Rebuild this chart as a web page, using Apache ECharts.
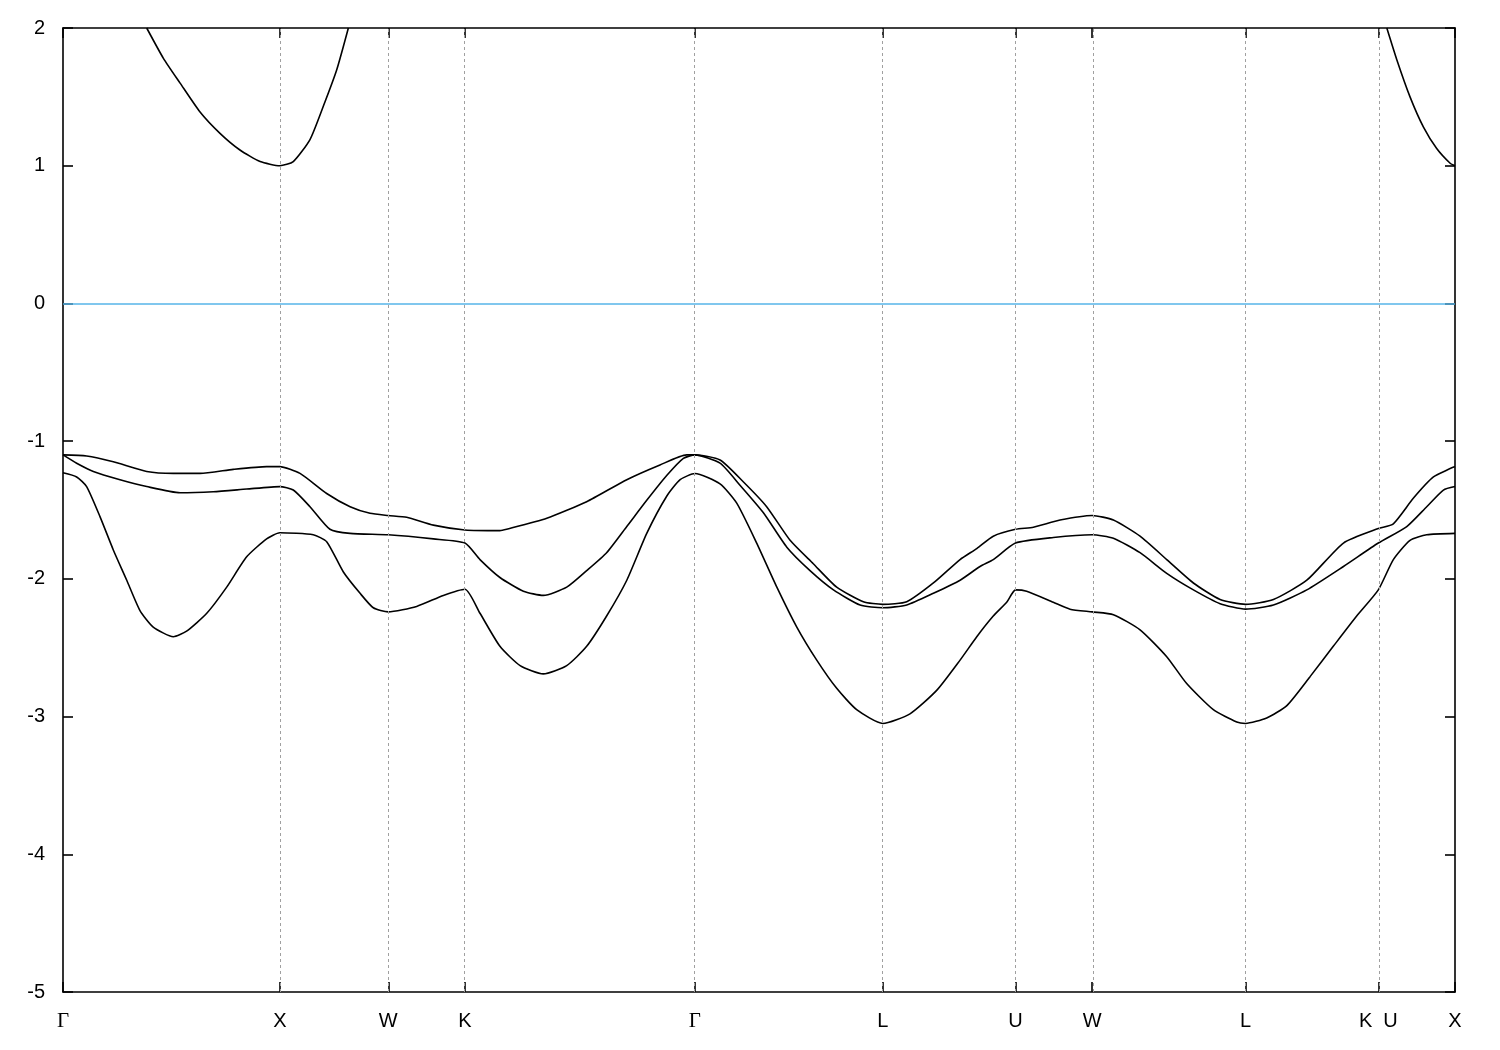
<!DOCTYPE html>
<html><head><meta charset="utf-8">
<script src="https://cdn.jsdelivr.net/npm/echarts@6/dist/echarts.min.js"></script>
<style>html,body{margin:0;padding:0;background:#fff}#c{width:1500px;height:1050px}</style>
</head><body><div id="c"></div>
<script>
// High-symmetry points along the k-path (units of 2π/a)
const kTicks = [0, 1.0, 1.5, 1.8536, 2.9143, 3.7803, 4.3927, 4.7463, 5.4534, 6.0658, 6.4194];
const kLabels = ['Γ', 'X', 'W', 'K', 'Γ', 'L', 'U', 'W', 'L', 'K  U', 'X'];
const yTicks = [-5, -4, -3, -2, -1, 0, 1, 2];
const fermiLevel = 0;

// Valence bands [k, E]
const bandTop = [[0,-1.10],[0.109,-1.108],[0.232,-1.15],[0.386,-1.22],[0.509,-1.234],[0.632,-1.234],[0.785,-1.205],[0.939,-1.185],[1.0,-1.185],[1.093,-1.234],[1.216,-1.38],[1.324,-1.476],[1.416,-1.524],[1.5,-1.54],[1.585,-1.553],[1.708,-1.61],[1.8536,-1.645],[2.015,-1.65],[2.046,-1.64],[2.231,-1.56],[2.415,-1.44],[2.600,-1.28],[2.753,-1.173],[2.876,-1.10],[2.9143,-1.10],[3.030,-1.137],[3.137,-1.295],[3.245,-1.476],[3.353,-1.72],[3.460,-1.89],[3.568,-2.06],[3.691,-2.166],[3.7803,-2.185],[3.891,-2.166],[4.014,-2.03],[4.137,-1.86],[4.214,-1.78],[4.290,-1.69],[4.3927,-1.64],[4.475,-1.625],[4.598,-1.573],[4.7463,-1.54],[4.844,-1.573],[4.967,-1.69],[5.090,-1.86],[5.213,-2.03],[5.336,-2.15],[5.4534,-2.185],[5.582,-2.15],[5.736,-2.01],[5.905,-1.74],[6.0658,-1.635],[6.135,-1.60],[6.227,-1.415],[6.320,-1.26],[6.4194,-1.185]];
const bandMid = [[0,-1.10],[0.063,-1.16],[0.140,-1.22],[0.263,-1.28],[0.386,-1.33],[0.540,-1.375],[0.693,-1.367],[0.847,-1.348],[1.0,-1.33],[1.062,-1.355],[1.139,-1.476],[1.231,-1.64],[1.324,-1.67],[1.5,-1.68],[1.708,-1.71],[1.8536,-1.74],[1.923,-1.86],[2.015,-1.99],[2.123,-2.09],[2.215,-2.12],[2.323,-2.06],[2.415,-1.94],[2.507,-1.81],[2.600,-1.62],[2.692,-1.43],[2.784,-1.25],[2.861,-1.125],[2.9143,-1.10],[3.030,-1.16],[3.122,-1.32],[3.230,-1.52],[3.338,-1.77],[3.445,-1.94],[3.553,-2.08],[3.676,-2.19],[3.7803,-2.21],[3.891,-2.19],[4.014,-2.105],[4.137,-2.01],[4.229,-1.91],[4.290,-1.86],[4.3927,-1.74],[4.567,-1.70],[4.7463,-1.68],[4.844,-1.705],[4.967,-1.81],[5.090,-1.96],[5.213,-2.08],[5.336,-2.18],[5.4534,-2.22],[5.582,-2.19],[5.736,-2.08],[5.905,-1.91],[6.0658,-1.74],[6.197,-1.62],[6.289,-1.476],[6.366,-1.355],[6.4194,-1.33]];
const bandLow = [[0,-1.23],[0.063,-1.26],[0.109,-1.33],[0.171,-1.55],[0.232,-1.79],[0.294,-2.01],[0.355,-2.23],[0.416,-2.35],[0.509,-2.42],[0.570,-2.38],[0.663,-2.25],[0.755,-2.06],[0.847,-1.84],[0.939,-1.71],[1.0,-1.665],[1.154,-1.68],[1.216,-1.73],[1.293,-1.95],[1.370,-2.105],[1.431,-2.21],[1.5,-2.24],[1.631,-2.20],[1.754,-2.12],[1.8536,-2.075],[1.923,-2.25],[2.015,-2.49],[2.108,-2.63],[2.215,-2.69],[2.323,-2.63],[2.415,-2.49],[2.507,-2.27],[2.600,-2.01],[2.692,-1.67],[2.784,-1.40],[2.846,-1.28],[2.9143,-1.235],[3.030,-1.31],[3.107,-1.45],[3.199,-1.74],[3.292,-2.06],[3.384,-2.35],[3.476,-2.59],[3.568,-2.795],[3.660,-2.95],[3.7803,-3.05],[3.906,-2.98],[4.029,-2.81],[4.137,-2.59],[4.214,-2.42],[4.290,-2.27],[4.352,-2.17],[4.3927,-2.08],[4.444,-2.09],[4.567,-2.17],[4.644,-2.22],[4.7463,-2.24],[4.844,-2.26],[4.967,-2.37],[5.090,-2.565],[5.182,-2.76],[5.305,-2.95],[5.413,-3.04],[5.4534,-3.05],[5.551,-3.01],[5.644,-2.92],[5.751,-2.71],[5.858,-2.49],[5.966,-2.27],[6.0658,-2.08],[6.135,-1.86],[6.212,-1.72],[6.289,-1.68],[6.4194,-1.67]];
// Conduction band pieces visible below 2 eV
const condA = [[0.386,2.0],[0.463,1.78],[0.540,1.60],[0.632,1.39],[0.724,1.235],[0.816,1.114],[0.909,1.03],[1.0,1.0],[1.062,1.03],[1.139,1.19],[1.200,1.43],[1.262,1.695],[1.316,2.0]];
const condB = [[6.105,2.0],[6.151,1.77],[6.212,1.50],[6.274,1.28],[6.335,1.125],[6.397,1.018],[6.4194,1.0]];

const kMax = kTicks[kTicks.length - 1];
const FONT = '"Liberation Sans", Arial, sans-serif';

function xLabel(v) {
  for (let i = 0; i < kTicks.length; i++) {
    if (Math.abs(v - kTicks[i]) < 1e-6) {
      return kLabels[i] === 'Γ' ? '{g|Γ}' : kLabels[i];
    }
  }
  return '';
}

const lineSeries = (data) => ({
  type: 'line', data: data, showSymbol: false, symbol: 'none', smooth: 0.2,
  lineStyle: { color: '#000', width: 1.6 }, clip: true, silent: true, animation: false
});

const axisLineStyle = { color: '#000', width: 1.6 };

const chart = echarts.init(document.getElementById('c'), null, { renderer: 'canvas' });
chart.setOption({
  animation: false,
  backgroundColor: '#fff',
  grid: { left: 63, right: 45, top: 28, bottom: 58, containLabel: false },
  xAxis: [{
    type: 'value', min: 0, max: kMax, position: 'bottom',
    axisLine: { show: true, onZero: false, lineStyle: axisLineStyle },
    axisTick: { show: true, inside: true, length: 10, customValues: kTicks, lineStyle: axisLineStyle },
    axisLabel: { show: true, customValues: kTicks, formatter: xLabel, margin: 19, color: '#000', fontSize: 20, fontFamily: FONT,
      rich: { g: { fontFamily: '"Liberation Serif", "DejaVu Serif", serif', fontSize: 21, color: '#000' } } },
    splitLine: { show: false }
  }, {
    type: 'value', min: 0, max: kMax, position: 'top',
    axisLine: { show: true, onZero: false, lineStyle: axisLineStyle },
    axisTick: { show: true, inside: true, length: 10, customValues: kTicks, lineStyle: axisLineStyle },
    axisLabel: { show: false },
    splitLine: { show: false }
  }],
  yAxis: [{
    type: 'value', min: -5, max: 2, interval: 1, position: 'left',
    axisLine: { show: true, onZero: false, lineStyle: axisLineStyle },
    axisTick: { show: true, inside: true, length: 10, lineStyle: axisLineStyle },
    axisLabel: { show: true, margin: 18, color: '#000', fontSize: 20, fontFamily: FONT, formatter: v => String(v) },
    splitLine: { show: false }
  }, {
    type: 'value', min: -5, max: 2, interval: 1, position: 'right',
    axisLine: { show: true, onZero: false, lineStyle: axisLineStyle },
    axisTick: { show: true, inside: true, length: 10, lineStyle: axisLineStyle },
    axisLabel: { show: false },
    splitLine: { show: false }
  }],
  series: [
    Object.assign(lineSeries(bandTop), {
      markLine: {
        silent: true, symbol: ['none', 'none'], label: { show: false }, animation: false,
        data: kTicks.slice(1, -1).map(k => ({ xAxis: k, lineStyle: { color: '#a0a0a0', width: 1, type: [3, 3] } }))
          .concat([{ yAxis: fermiLevel, lineStyle: { color: '#56b4e9', width: 1.6, type: 'solid' } }])
      }
    }),
    lineSeries(bandMid),
    lineSeries(bandLow),
    lineSeries(condA),
    lineSeries(condB)
  ]
});
</script>
</body></html>
